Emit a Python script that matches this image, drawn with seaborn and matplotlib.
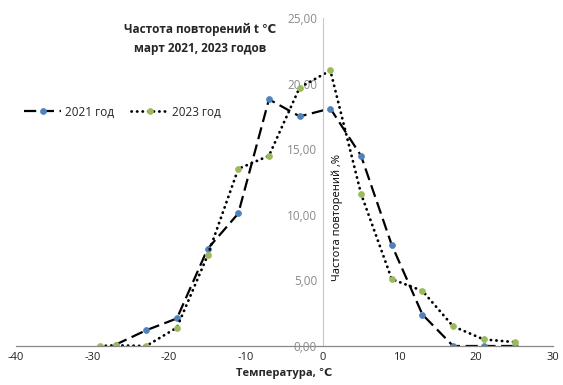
import matplotlib
matplotlib.use("Agg")
import matplotlib.pyplot as plt
import seaborn as sns
import pandas as pd

x_2021 = [-27, -23, -19, -15, -11, -7, -3, 1, 5, 9, 13, 17, 21, 25]
y_2021 = [0.1, 1.2, 2.1, 7.4, 10.1, 18.8, 17.5, 18.1, 14.5, 7.7, 2.4, 0.0, 0.0, 0.0]
x_2023 = [-29, -27, -23, -19, -15, -11, -7, -3, 1, 5, 9, 13, 17, 21, 25]
y_2023 = [0.0, 0.05, 0.0, 1.4, 6.9, 13.5, 14.5, 19.7, 21.0, 11.6, 5.1, 4.2, 1.5, 0.5, 0.3]
x_ticks = [-40, -30, -20, -10, 0, 10, 20, 30]
y_ticks = [0, 5, 10, 15, 20, 25]
y_tick_labels = ["0,00", "5,00", "10,00", "15,00", "20,00", "25,00"]

sns.set_theme(style="white")
plt.rcParams['font.family'] = ['Open Sans', 'DejaVu Sans']

fig = plt.figure(figsize=(5.63, 3.85), dpi=100)
ax = fig.add_axes([0.028, 0.1013, 0.954, 0.852])

for s in ["top", "right"]:
    ax.spines[s].set_visible(False)
ax.spines["left"].set_position(("data", 0))
ax.spines["left"].set_color("#c8c8c8")
ax.spines["left"].set_linewidth(0.8)
ax.spines["bottom"].set_color("#888888")
ax.spines["bottom"].set_linewidth(0.9)

df21 = pd.DataFrame({"t": x_2021, "v": y_2021})
df23 = pd.DataFrame({"t": x_2023, "v": y_2023})

sns.lineplot(data=df21, x="t", y="v", ax=ax, color="black", lw=1.6,
             marker="o", markersize=4.3, markerfacecolor="#4F81BD",
             markeredgecolor="#4F81BD", markeredgewidth=0.5, label="2021 год")
sns.lineplot(data=df23, x="t", y="v", ax=ax, color="black", lw=2.0,
             marker="o", markersize=4.3, markerfacecolor="#9BBB59",
             markeredgecolor="#9BBB59", markeredgewidth=0.5, label="2023 год")
ax.lines[0].set_dashes([5.5, 2.5])
ax.lines[1].set_linestyle((0, (0.1, 1.9)))
ax.lines[1].set_dash_capstyle("round")

ax.set_xlim(-40, 30)
ax.set_ylim(0, 25)
ax.set_xticks(x_ticks)
ax.set_xticklabels([str(t) for t in x_ticks], fontsize=8, color="#222222")
ax.set_yticks(y_ticks)
ax.set_yticklabels(y_tick_labels, fontsize=8.5, color="#8a8a8a")
ax.tick_params(axis="both", length=0, pad=4)

ax.set_xlabel("Температура, ℃", fontsize=8, fontweight="bold", labelpad=4)
ax.set_ylabel("")
ax.text(1.2, 9.8, "Частота повторений ,%", rotation=90, fontsize=8,
        ha="left", va="center", color="black")
ax.text(-16.0, 23.4, "Частота повторений t ℃\nмарт 2021, 2023 годов",
        fontsize=8.5, fontweight="bold", ha="center", va="center",
        linespacing=1.6)

leg = ax.legend(loc="center left", bbox_to_anchor=(-0.005, 0.713), ncol=2,
                frameon=False, fontsize=8.5, handlelength=3.2,
                columnspacing=1.4, handletextpad=0.3)

fig.savefig("out.png", dpi=100)
